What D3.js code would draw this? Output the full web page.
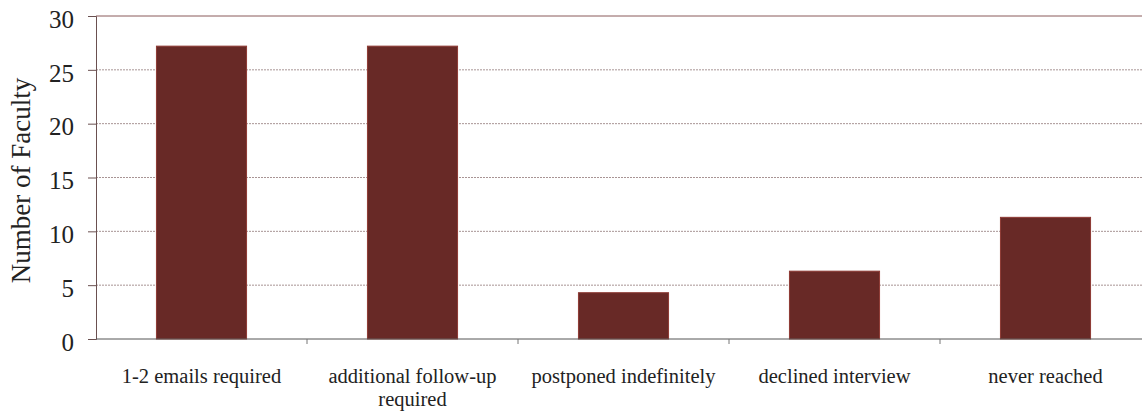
<!DOCTYPE html>
<html>
<head>
<meta charset="utf-8">
<script src="https://cdn.jsdelivr.net/npm/d3@7/dist/d3.min.js"></script>
<style>
  html, body { margin: 0; padding: 0; background: #fff; overflow: hidden; }
  svg text { font-family: 'Liberation Serif', 'Times New Roman', 'DejaVu Serif', serif; }
</style>
</head>
<body>
<svg id="chart" width="1142" height="415"></svg>
<script>
// Faculty contact outcomes
const categories = [
  "1-2 emails required",
  "additional follow-up required",
  "postponed indefinitely",
  "declined interview",
  "never reached"
];
const values = [27.2, 27.2, 4.3, 6.3, 11.3];
const yTicks = [0, 5, 10, 15, 20, 25, 30];

const FONT = "'Liberation Serif', 'Times New Roman', 'DejaVu Serif', serif";
const svg = d3.select("#chart");
const plotLeft = 96, plotRight = 1151, plotTop = 16, plotBottom = 339;

const x = d3.scaleBand().domain(categories).range([plotLeft, plotRight]).paddingInner(0.573).paddingOuter(0.2865);
const y = d3.scaleLinear().domain([0, 30]).range([plotBottom, plotTop]);

// horizontal gridlines
svg.append("g")
  .selectAll("line")
  .data(yTicks.filter(d => d > 0))
  .join("line")
  .attr("x1", plotLeft).attr("x2", plotRight)
  .attr("y1", d => y(d)).attr("y2", d => y(d))
  .attr("stroke", d => d === 30 ? "#8a5a5a" : "#a89494")
  .attr("stroke-width", 1)
  .attr("stroke-dasharray", d => d === 30 ? null : "2,1");

// bars
svg.append("g")
  .selectAll("rect")
  .data(categories)
  .join("rect")
  .attr("x", d => x(d))
  .attr("width", x.bandwidth())
  .attr("y", (d, i) => y(values[i]))
  .attr("height", (d, i) => y(0) - y(values[i]))
  .attr("fill", "#682926")
  .attr("stroke", "#8e3a34")
  .attr("stroke-width", 1);

// y axis
const yAxis = d3.axisLeft(y).tickValues(yTicks).tickSize(8).tickPadding(14);
const gy = svg.append("g").attr("transform", `translate(${plotLeft},0)`).call(yAxis)
  .attr("font-family", FONT).attr("font-size", 25);
gy.select(".domain").attr("stroke", "#6a5050");
gy.selectAll(".tick line").attr("stroke", "#6a5050");
gy.selectAll(".tick text").attr("fill", "#222").attr("dy", "0.45em");

// x axis baseline with ticks between categories
const gx = svg.append("g").attr("transform", `translate(0,${plotBottom})`);
gx.append("line")
  .attr("x1", plotLeft).attr("x2", plotRight)
  .attr("stroke", "#555");
const step = x.step();
const boundaries = d3.range(1, categories.length).map(i => plotLeft + i * step);
gx.selectAll("line.tk")
  .data(boundaries)
  .join("line")
  .attr("class", "tk")
  .attr("x1", d => d).attr("x2", d => d)
  .attr("y1", 0).attr("y2", 5)
  .attr("stroke", "#777");

// category labels, wrapped to fit the band
const labelSize = 20.5;
const labelWidth = 200;
const measureCtx = document.createElement("canvas").getContext("2d");
measureCtx.font = `${labelSize}px ${FONT}`;
function wrapLines(text) {
  const words = text.split(" ");
  const lines = [];
  let cur = "";
  words.forEach(w => {
    const t = cur ? cur + " " + w : w;
    if (measureCtx.measureText(t).width > labelWidth && cur) { lines.push(cur); cur = w; }
    else cur = t;
  });
  lines.push(cur);
  return lines;
}
const labels = svg.append("g")
  .attr("font-family", FONT)
  .selectAll("text")
  .data(categories)
  .join("text")
  .attr("text-anchor", "middle")
  .attr("font-size", labelSize)
  .attr("fill", "#222")
  .attr("x", d => x(d) + x.bandwidth() / 2)
  .attr("y", 383);
labels.each(function(d) {
  const el = d3.select(this);
  wrapLines(d).forEach((ln, i) => {
    el.append("tspan")
      .attr("x", x(d) + x.bandwidth() / 2)
      .attr("dy", i === 0 ? 0 : 23)
      .text(ln);
  });
});

// y axis title
svg.append("text")
  .attr("transform", `translate(30,${(plotTop + plotBottom) / 2 + 3}) rotate(-90)`)
  .attr("text-anchor", "middle")
  .attr("font-family", FONT)
  .attr("font-size", 27)
  .attr("fill", "#222")
  .text("Number of Faculty");
</script>
</body>
</html>
